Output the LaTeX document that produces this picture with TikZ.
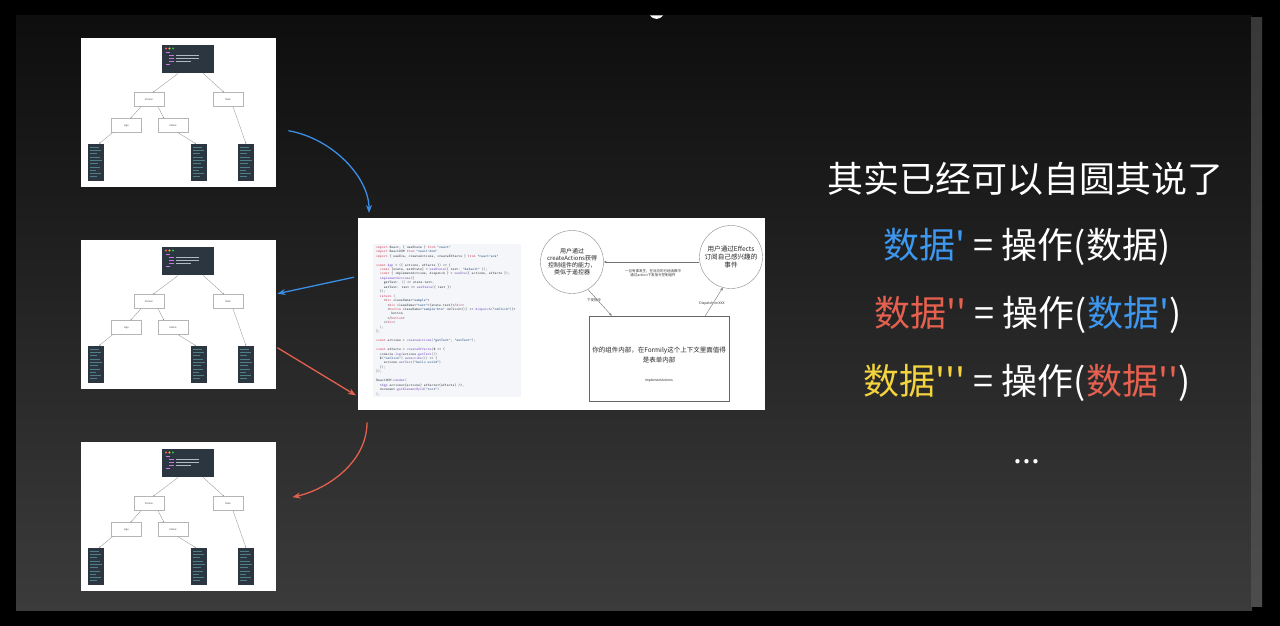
\documentclass[tikz,border=0pt]{standalone}
\usepackage{fontspec}
\setmainfont{Liberation Sans}
\newfontfamily\cjk[Ligatures=TeXOff]{Noto Sans CJK SC}
\usetikzlibrary{arrows.meta}
\definecolor{slidetop}{HTML}{0E0E0E}
\definecolor{slidemid}{HTML}{1F1F1F}
\definecolor{slidebot}{HTML}{3B3B3B}
\definecolor{codedark}{HTML}{2B3640}
\definecolor{tgray}{HTML}{B5B5B5}
\definecolor{codebgcol}{HTML}{F4F6F9}
\definecolor{codeplain}{HTML}{3A3F45}
\definecolor{codekw}{HTML}{D0455A}
\definecolor{codestr}{HTML}{2A4F80}
\definecolor{codefn}{HTML}{7A4FC0}
\definecolor{dotred}{HTML}{FF5F56}
\definecolor{dotyel}{HTML}{FFBD2E}
\definecolor{dotgrn}{HTML}{27C93F}
\definecolor{tpink}{HTML}{C678DD}
\definecolor{tlight}{HTML}{AEBBC2}
\definecolor{tteal}{HTML}{4E7F86}
\definecolor{arrblue}{HTML}{3A8EE6}
\definecolor{arrred}{HTML}{E2604E}
\definecolor{txtblue}{HTML}{3D97EE}
\definecolor{txtred}{HTML}{E5604F}
\definecolor{txtyel}{HTML}{F3D33E}
\newcommand\ckw[1]{\textcolor{codekw}{#1}}
\newcommand\cstr[1]{\textcolor{codestr}{#1}}
\newcommand\cfn[1]{\textcolor{codefn}{#1}}
\newcommand\Ia{\hspace*{1.05em}}
\newcommand\Ib{\hspace*{2.1em}}
\newcommand\Ic{\hspace*{3.15em}}
\newcommand\Id{\hspace*{4.2em}}
\tikzset{
  thumbframe/.style={fill=white, draw=none, minimum width=195pt, minimum height=149pt, anchor=north west, inner sep=0pt},
  codebox/.style={fill=codedark, minimum width=52pt, minimum height=28pt, anchor=north west, inner sep=0pt},
  tbox/.style={draw=tgray, line width=0.3pt, fill=white, minimum width=30pt, minimum height=14pt, inner sep=0pt, font=\fontsize{2.6}{3}\selectfont, text=black!70},
  dbox/.style={fill=codedark, minimum width=16pt, minimum height=37pt, inner sep=0pt},
  tedge/.style={draw=black!45, line width=0.3pt, -{Stealth[length=1.6pt,width=1.3pt]}},
  tline/.style={line width=0.8pt},
  imgframe/.style={fill=white, minimum width=407pt, minimum height=192pt, anchor=north west, inner sep=0pt},
  codebg/.style={fill=codebgcol, minimum width=148pt, minimum height=153pt, anchor=north west, inner sep=0pt},
  codetext/.style={anchor=north west, inner sep=0pt, align=left, text=codeplain, font=\ttfamily\fontsize{3.6}{4.45}\selectfont},
  bubble/.style={circle, draw=black!45, line width=0.4pt, minimum size=63pt, inner sep=0pt, align=center, text=black!85},
  implbox/.style={draw=black!60, line width=0.5pt, minimum width=140pt, minimum height=85pt, inner sep=0pt},
  darr/.style={draw=black!55, line width=0.4pt, -{Stealth[length=3pt,width=2.4pt]}},
  tinylbl/.style={font=\cjk\fontsize{3.5}{4.5}\selectfont, text=black!80, inner sep=0pt, align=center},
  bigtxt/.style={font=\cjk\fontsize{36}{40}\selectfont, text=white, inner sep=0pt},
  bluearr/.style={draw=arrblue, line width=1.3pt, -{Stealth[length=8pt,width=6pt]}},
  redarr/.style={draw=arrred, line width=1.3pt, -{Stealth[length=8pt,width=6pt]}},
}
\newcommand\drawthumb[2]{%
\begin{scope}[shift={(#2)}]
  \node[thumbframe] (#1frame) at (0,0) {};
  \node[codebox] (#1code) at (81,7) {};
  \fill[dotred] (85,10.5) circle (1.1);
  \fill[dotyel] (88.5,10.5) circle (1.1);
  \fill[dotgrn] (92,10.5) circle (1.1);
  \draw[tline, tpink] (85,14.5) -- (89,14.5);
  \draw[tline, tpink] (88,17.5) -- (93,17.5);
  \draw[tline, tlight] (95,17.5) -- (118,17.5);
  \draw[tline, tpink] (88,20.5) -- (93,20.5);
  \draw[tline, tlight] (95,20.5) -- (118,20.5);
  \draw[tline, tpink] (88,23.5) -- (93,23.5);
  \draw[tline, tlight] (95,23.5) -- (110,23.5);
  \draw[tline, tpink] (85,26.5) -- (89,26.5);
  \node[tbox] (#1person) at (68,61.5) {Person};
  \node[tbox] (#1date) at (147,61.5) {Date};
  \node[tbox] (#1age) at (45.5,87.5) {Age};
  \node[tbox] (#1name) at (92,87.5) {Name};
  \node[dbox] (#1dA) at (15,124.5) {};
  \node[dbox] (#1dB) at (118,124.5) {};
  \node[dbox] (#1dC) at (165,124.5) {};
  \foreach \c in {15,118,165}{
    \foreach \k/\l in {0/9,1/11,2/7,3/10,4/12,5/8,6/10,7/6,8/11,9/7}{
      \draw[tteal, line width=0.6pt] (\c-6,109+3.3*\k) -- ++(\l,0);
    }
  }
  \draw[tedge] ([xshift=-10pt]#1code.south) -- ([xshift=4pt]#1person.north);
  \draw[tedge] ([xshift=15pt]#1code.south) -- ([xshift=-4pt]#1date.north);
  \draw[tedge] ([xshift=-8pt]#1person.south) -- ([xshift=4pt]#1age.north);
  \draw[tedge] ([xshift=9pt]#1person.south) -- ([xshift=-9pt]#1name.north);
  \draw[tedge] ([xshift=-14pt]#1age.south) -- ([xshift=3pt]#1dA.north);
  \draw[tedge] ([xshift=5pt]#1name.south) -- ([xshift=-3pt]#1dB.north);
  \draw[tedge] ([xshift=5pt]#1date.south) -- (#1dC.north);
\end{scope}}
\begin{document}
\begin{tikzpicture}[x=1pt, y=-1pt]
  \useasboundingbox (0,0) rectangle (1280,626);
  \fill[black] (0,0) rectangle (1280,626);
  \shade[top color=slidetop, middle color=slidemid, bottom color=slidebot] (16,16) rectangle (1252,610);
  \shade[top color=black!78, bottom color=black!70] (1251,18) rectangle (1262,606);
  \fill[white] (650,15.5) .. controls (653,20) and (660,20) .. (663,15.5) -- cycle;

  % thumbnails
  \drawthumb{t1}{81,38}
  \drawthumb{t2}{81,240}
  \drawthumb{t3}{81,442}

  % center image
  \node[imgframe] (ci) at (358,218) {};
  \node[codebg] (codebg) at (373,244) {};
  \node[codetext] (code) at (376,245.5) {%
\ckw{import} React, \{ useState \} \ckw{from} \cstr{"react"}\\
\ckw{import} ReactDOM \ckw{from} \cstr{"react-dom"}\\
\ckw{import} \{ useEva, createActions, createEffects \} \ckw{from} \cstr{"react-eva"}\\
\mbox{}\\
\ckw{const} \cfn{App} = (\{ actions, effects \}) => \{\\
\Ia\ckw{const} [state, setState] = \cfn{useState}(\{ text: \cstr{"default"} \});\\
\Ia\ckw{const} \{ implementActions, dispatch \} = \cfn{useEva}(\{ actions, effects \});\\
\Ia\cfn{implementActions}(\{\\
\Ib getText: () => state.text,\\
\Ib setText: text => \cfn{setState}(\{ text \})\\
\Ia\});\\
\Ia\ckw{return} (\\
\Ib<\ckw{div} className=\cstr{"sample"}>\\
\Ic<\ckw{div} className=\cstr{"text"}>\{state.text\}</\ckw{div}>\\
\Ic<\ckw{button} className=\cstr{"sample-btn"} onClick=\{() => \cfn{dispatch}(\cstr{"onClick"})\}>\\
\Id button\\
\Ic</\ckw{button}>\\
\Ib</\ckw{div}>\\
\Ia);\\
\};\\
\mbox{}\\
\ckw{const} actions = \cfn{createActions}(\cstr{"getText"}, \cstr{"setText"});\\
\mbox{}\\
\ckw{const} effects = \cfn{createEffects}(\$ => \{\\
\Ia console.\cfn{log}(actions.\cfn{getText}())\\
\Ia\$(\cstr{"onClick"}).\cfn{subscribe}(() => \{\\
\Ib actions.\cfn{setText}(\cstr{"hello world"})\\
\Ia\});\\
\});\\
\mbox{}\\
ReactDOM.\cfn{render}(\\
\Ia<\cfn{App} actions=\{actions\} effects=\{effects\} />,\\
\Ia document.\cfn{getElementById}(\cstr{"root"})\\
);};

  \node[bubble, font=\cjk\fontsize{6}{7}\selectfont] (cA) at (572,262)
    {用户通过\\createActions获得\\控制组件的能力，\\类似于遥控器};
  \node[bubble, font=\cjk\fontsize{6.6}{7.8}\selectfont] (cE) at (731,257)
    {用户通过Effects\\订阅自己感兴趣的\\事件};
  \node[implbox] (impl) at (659,358.5) {};
  \node[font=\cjk\fontsize{6.5}{10}\selectfont, text=black!85, align=center, inner sep=0pt] (implTxt) at (659,355)
    {你的组件内部，在Formily这个上下文里面值得\\是表单内部};
  \node[font=\fontsize{3.5}{4}\selectfont, text=black!80, inner sep=0pt] (implName) at (659,381) {implementActions};

  \draw[darr] (cE.west |- cA.east) -- (cA.east);
  \node[tinylbl] (lblTop) at (653,273) {一旦有事发生，在对应的已经函数中\\通过action下发指令控制组件};
  \draw[darr] (cA.-60) -- ([xshift=23pt]impl.north west);
  \node[tinylbl] (lblDown) at (594,300) {下发指令};
  \draw[darr] ([xshift=-24pt]impl.north east) -- (cE.-105);
  \node[tinylbl] (lblUp) at (712,304) {Dispatch onXXX};

  % main arrows
  \draw[bluearr] ([xshift=12pt,yshift=-18pt]t1frame.east) .. controls +(45pt,-8pt) and +(0pt,35pt) .. ([xshift=11pt,yshift=5pt]ci.north west);
  \draw[bluearr] ([xshift=-4pt,yshift=37pt]ci.west) -- ([xshift=1pt,yshift=21pt]t2frame.east);
  \draw[redarr] ([xshift=1pt,yshift=-33pt]t2frame.east) -- ([xshift=-2pt,yshift=15pt]ci.south west);
  \draw[redarr] ([xshift=9pt,yshift=-12pt]ci.south west) .. controls +(0pt,-40pt) and +(35pt,8pt) .. ([xshift=16pt,yshift=19.5pt]t3frame.east);

  % right-hand text
  \node[bigtxt] (title) at (1025,179) {其实已经可以自圆其说了};
  \node[bigtxt] (eqA) at (1027,247) {\textcolor{txtblue}{数据'} = 操作(数据)};
  \node[bigtxt] (eqB) at (1028,315) {\textcolor{txtred}{数据''} = 操作(\textcolor{txtblue}{数据'})};
  \node[bigtxt] (eqC) at (1027,383) {\textcolor{txtyel}{数据'''} = 操作(\textcolor{txtred}{数据''})};
  \node[bigtxt, anchor=base, font=\cjk\fontsize{32}{36}\selectfont] (dots) at (1027,463) {...};
\end{tikzpicture}
\end{document}
